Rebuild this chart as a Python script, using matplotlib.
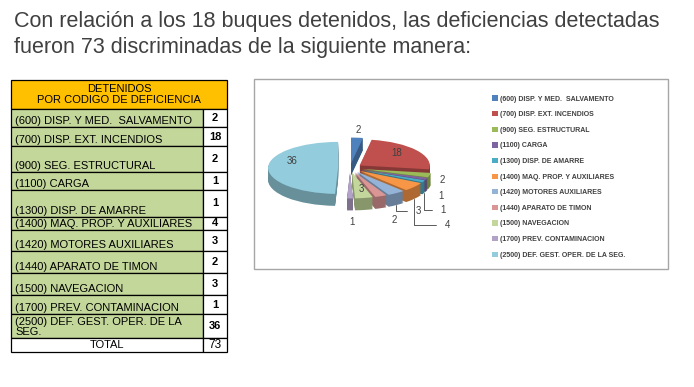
import matplotlib.pyplot as plt
import matplotlib.colors as mcolors
from matplotlib.patches import Rectangle
import numpy as np

plt.rcParams['font.family'] = ['Liberation Sans', 'DejaVu Sans']

# datos
titulo_1 = 'Con relación a los 18 buques detenidos, las deficiencias detectadas'
titulo_2 = 'fueron 73 discriminadas de la siguiente manera:'
encabezado = 'DETENIDOS\nPOR CODIGO DE DEFICIENCIA'
codigos = ['(600) DISP. Y MED.  SALVAMENTO', '(700) DISP. EXT. INCENDIOS',
           '(900) SEG. ESTRUCTURAL', '(1100) CARGA', '(1300) DISP. DE AMARRE',
           '(1400) MAQ. PROP. Y AUXILIARES', '(1420) MOTORES AUXILIARES',
           '(1440) APARATO DE TIMON', '(1500) NAVEGACION',
           '(1700) PREV. CONTAMINACION', '(2500) DEF. GEST. OPER. DE LA SEG.']
codigos_tabla = codigos[:-1] + ['(2500) DEF. GEST. OPER. DE LA\nSEG.']
cantidades = [2, 18, 2, 1, 1, 4, 3, 2, 3, 1, 36]
colores = ['#4F81BD', '#C0504D', '#9BBB59', '#8064A2', '#4BACC6', '#F79646',
           '#95B3D7', '#D99694', '#C3D69B', '#B3A2C7', '#93CDDD']

# estilo / posiciones (pixeles)
W, H = 694, 387
gris = '#404040'
tx0, txv, tx1, ttop = 11, 203, 227, 80
alto_enc = 29
alto_filas = [18, 19, 26, 18, 27, 13, 21, 22, 22, 19, 24]
alto_total = 14
# etiquetas del pie: (radio, dx, dy, linea guia)
etiq = [(1.17, 1, -8, False), (0.75, 4, -4, False), (1.17, 13, 5, False),
        (1.17, 15, 17, False), (1.17, 19, 29, True), (1.17, 33, 38, True),
        (1.17, 22, 18, True), (1.17, 13, 24, False), (0.8, 2, 1, False),
        (1.17, 2, 24, False), (0.75, -5, -7, False)]

fig = plt.figure(figsize=(W / 100, H / 100), dpi=100)
bg = fig.add_axes([0, 0, 1, 1])
bg.set_xlim(0, W)
bg.set_ylim(H, 0)
bg.axis('off')

bg.text(14, 27, titulo_1, fontsize=15.5, color=gris, va='baseline')
bg.text(14, 53, titulo_2, fontsize=15.5, color=gris, va='baseline')

# tabla
bg.add_patch(Rectangle((tx0, ttop), tx1 - tx0, alto_enc, fc='#FFC000', ec='black', lw=0.9))
bg.text((tx0 + tx1) / 2, ttop + alto_enc / 2, encabezado, ha='center', va='center',
        fontsize=8, linespacing=1.05)
y = ttop + alto_enc
for nombre, n, h in zip(codigos_tabla, cantidades, alto_filas):
    bg.add_patch(Rectangle((tx0, y), txv - tx0, h, fc='#C4D79B', ec='black', lw=0.9))
    bg.add_patch(Rectangle((txv, y), tx1 - txv, h, fc='white', ec='black', lw=0.9))
    bg.text(tx0 + 4, y + h - 1, nombre, ha='left', va='bottom', fontsize=8,
            linespacing=0.95)
    bg.text((txv + tx1) / 2, y + h / 2, str(n), ha='center', va='center',
            fontsize=8, fontweight='bold')
    y += h
bg.add_patch(Rectangle((tx0, y), txv - tx0, alto_total, fc='white', ec='black', lw=0.9))
bg.add_patch(Rectangle((txv, y), tx1 - txv, alto_total, fc='white', ec='black', lw=0.9))
bg.text((tx0 + txv) / 2, y + alto_total / 2, 'TOTAL', ha='center', va='center', fontsize=8)
bg.text((txv + tx1) / 2, y + alto_total / 2, str(sum(cantidades)), ha='center',
        va='center', fontsize=8.5)

# marco del grafico
bg.add_patch(Rectangle((254, 79), 414, 190, fill=False, ec='#A6A6A6', lw=1))

# pie pseudo 3D
cx, cy, rx, ry = 350, 168, 70, 26
px0, px1, py0, py1 = 255, 480, 80, 268
ax = fig.add_axes([px0 / W, 1 - py1 / H, (px1 - px0) / W, (py1 - py0) / H])
explode = [0.17] * len(cantidades)
prof = 12 / ry
oscuros = [tuple(np.array(mcolors.to_rgb(c)) * 0.7) for c in colores]
for d in np.linspace(prof, 0, 14)[:-1]:
    ax.pie(cantidades, colors=oscuros, explode=explode, startangle=90,
           counterclock=False, center=(0, -d), wedgeprops=dict(linewidth=0))
cunas, _ = ax.pie(cantidades, colors=colores, explode=explode, startangle=90,
                  counterclock=False, wedgeprops=dict(linewidth=0))
ax.set_aspect('auto')
ax.set_xlim((px0 - cx) / rx, (px1 - cx) / rx)
ax.set_ylim(-(py1 - cy) / ry, (cy - py0) / ry)
ax.axis('off')

total = sum(cantidades)
acum = np.cumsum([0] + cantidades[:-1])
for v, a, (r, dx, dy, guia) in zip(cantidades, acum, etiq):
    th = np.deg2rad(90 - 360 * (a + v / 2) / total)
    xa, ya = r * np.cos(th), r * np.sin(th)
    if guia:
        ya -= prof
        ax.annotate(str(v), xy=(xa, ya), xytext=(dx, -(dy - 12)), textcoords='offset pixels',
                    ha='center', va='center', fontsize=7, color=gris,
                    arrowprops=dict(arrowstyle='-', color=gris, lw=0.6, shrinkA=4, shrinkB=0,
                                    connectionstyle='angle,angleA=0,angleB=90,rad=0'))
    else:
        ax.annotate(str(v), xy=(xa, ya), xytext=(dx, -dy), textcoords='offset pixels',
                    ha='center', va='center', fontsize=7, color=gris)

fig.legend(cunas, codigos, loc='upper left', bbox_to_anchor=(489 / W, 1 - 92 / H),
           frameon=False, prop=dict(size=5, weight='bold'), labelspacing=1.23,
           handlelength=0.8, handleheight=0.8, handletextpad=0.3, borderpad=0,
           labelcolor=gris)

fig.savefig('out.png', dpi=100)
